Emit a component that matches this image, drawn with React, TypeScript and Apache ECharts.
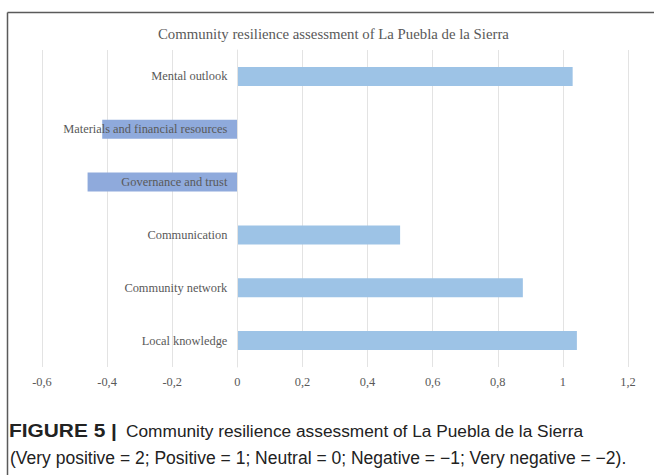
import React, { useEffect, useRef } from "react";
import * as echarts from "echarts";

// Resilience dimensions, top to bottom
const categories = [
  "Mental outlook",
  "Materials and financial resources",
  "Governance and trust",
  "Communication",
  "Community network",
  "Local knowledge",
];

// Mean assessment score per dimension
const scores = [1.03, -0.415, -0.46, 0.5, 0.877, 1.043];

const xTicks = { min: -0.6, max: 1.2, step: 0.2 };

const chartTitle = "Community resilience assessment of La Puebla de la Sierra";
const captionLabel = "FIGURE 5 |";
const captionLine1 = "Community resilience assessment of La Puebla de la Sierra";
const captionLine2 =
  "(Very positive = 2; Positive = 1; Neutral = 0; Negative = \u22121; Very negative = \u22122).";

const POS_COLOR = "#9dc3e6";
const NEG_COLOR = "#8faadc";
const SERIF = "'Liberation Serif', 'Times New Roman', serif";
const SANS = "'Liberation Sans', Arial, sans-serif";

const GRID_LEFT = 42;
const GRID_RIGHT = 26;
const CHART_WIDTH = 654;

export default function App() {
  const ref = useRef<HTMLDivElement>(null);

  useEffect(() => {
    if (!ref.current) return;
    const chart = echarts.init(ref.current, null, { renderer: "svg" });

    // the category axis sits on the x = 0 line, as in the spreadsheet original
    const plotWidth = CHART_WIDTH - GRID_LEFT - GRID_RIGHT;
    const zeroOffset =
      (plotWidth * (0 - xTicks.min)) / (xTicks.max - xTicks.min);

    chart.setOption({
      animation: false,
      backgroundColor: "#ffffff",
      title: {
        text: chartTitle,
        left: 153,
        top: 21,
        textStyle: {
          fontFamily: SERIF,
          fontSize: 14.8,
          fontWeight: "normal",
          color: "#595959",
        },
      },
      grid: {
        left: GRID_LEFT,
        right: GRID_RIGHT,
        top: 50,
        bottom: 108,
        containLabel: false,
        outerBoundsMode: "none",
      },
      xAxis: {
        type: "value",
        min: xTicks.min,
        max: xTicks.max,
        interval: xTicks.step,
        axisLine: { show: false },
        axisTick: { show: false },
        splitLine: { lineStyle: { color: "#e3e3e3", width: 1 } },
        axisLabel: {
          margin: 9,
          fontFamily: SERIF,
          fontSize: 12.4,
          color: "#595959",
          formatter: (v: number) =>
            String(Math.round(v * 10) / 10).replace(".", ","),
        },
      },
      yAxis: {
        type: "category",
        data: categories,
        inverse: true,
        z: 10,
        offset: -zeroOffset,
        axisLine: { show: true, onZero: false, lineStyle: { color: "#e3e3e3" } },
        axisTick: { show: false },
        splitLine: { show: false },
        axisLabel: {
          margin: 10,
          fontFamily: SERIF,
          fontSize: 12.4,
          color: "#595959",
        },
      },
      series: [
        {
          type: "bar",
          barWidth: "36%",
          data: scores.map((v) => ({
            value: v,
            itemStyle: { color: v < 0 ? NEG_COLOR : POS_COLOR },
          })),
        },
      ],
      graphic: [
        {
          type: "line",
          shape: { x1: 7.5, y1: 12.5, x2: 654, y2: 12.5 },
          style: { stroke: "#5a5a5a", lineWidth: 1.5 },
          silent: true,
        },
        {
          type: "line",
          shape: { x1: 7.5, y1: 12.5, x2: 7.5, y2: 475 },
          style: { stroke: "#5a5a5a", lineWidth: 1.5 },
          silent: true,
        },
        {
          type: "text",
          x: 9,
          y: 431,
          scaleX: 1.16,
          style: {
            text: captionLabel,
            fontFamily: SANS,
            fontSize: 18,
            fontWeight: "bold",
            fill: "#222222",
            verticalAlign: "middle",
          },
        },
        {
          type: "text",
          x: 126,
          y: 431,
          style: {
            text: captionLine1,
            fontFamily: SANS,
            fontSize: 17.3,
            fill: "#222222",
            verticalAlign: "middle",
          },
        },
        {
          type: "text",
          x: 10,
          y: 458,
          style: {
            text: captionLine2,
            fontFamily: SANS,
            fontSize: 17.5,
            fill: "#222222",
            verticalAlign: "middle",
          },
        },
      ],
    });
    return () => chart.dispose();
  }, []);

  return (
    <div
      ref={ref}
      style={{ position: "fixed", left: 0, top: 0, width: 654, height: 475 }}
    />
  );
}
